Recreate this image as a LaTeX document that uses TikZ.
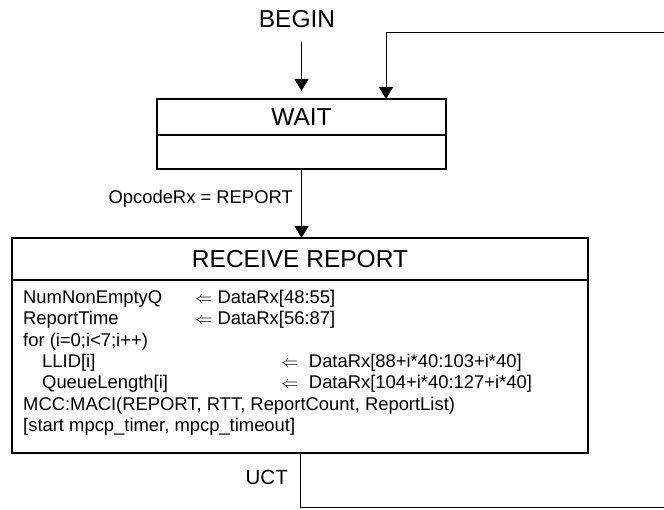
\documentclass[tikz,border=0pt]{standalone}
\usepackage{fontspec}
\setmainfont{Liberation Sans}
\usetikzlibrary{arrows.meta,positioning}

\begin{document}
\begin{tikzpicture}[x=1pt, y=-1pt,
    box/.style={draw, line width=2pt, inner sep=0pt, outer sep=0pt, anchor=north west},
    conn/.style={line width=1pt, -{Triangle[length=12pt, width=14pt]}},
    big/.style={font=\fontsize{24.5}{29}\selectfont},
    body/.style={font=\fontsize{18.4}{22}\selectfont, inner sep=0pt, anchor=base west},
    lbl/.style={font=\fontsize{18.4}{22}\selectfont, inner sep=0pt, anchor=east}]
    \useasboundingbox (0,0) rectangle (664,510);
    % Start label
    \node[big] (begin) at (297,19) {BEGIN};
    % WAIT state
    \node[box, big, minimum width=289pt, minimum height=36pt] (waittop) at (157,99) {WAIT};
    \node[box, minimum width=289pt, minimum height=34pt] (waitbot) at (waittop.south west) {};
    % RECEIVE REPORT state
    \node[box, big, minimum width=576pt, minimum height=42pt] (rxtop) at (12,238) {RECEIVE REPORT};
    \node[box, minimum width=576pt, minimum height=173pt] (rxbot) at (rxtop.south west) {};
    % State actions
    \foreach \i/\x/\txt in {0/23/NumNonEmptyQ, 1/23/ReportTime, 2/23/{for (i=0;i<7;i++)},
        3/42/{LLID[i]}, 4/42/{QueueLength[i]},
        5/23/{MCC:MACI(REPORT, RTT, ReportCount, ReportList)},
        6/23/{[start mpcp\_timer, mpcp\_timeout]}} {
        \node[body] (act\i) at (\x,303.7+21.3*\i) {\txt};
    }
    \node[body] (src0) at (195,303.7) {$\Leftarrow$ DataRx[48:55]};
    \node[body] (src1) at (195,325) {$\Leftarrow$ DataRx[56:87]};
    \node[body] (src3) at (281,367.6) {$\Leftarrow$\hspace{10.5pt}DataRx[88+i*40:103+i*40]};
    \node[body] (src4) at (281,388.9) {$\Leftarrow$\hspace{10.5pt}DataRx[104+i*40:127+i*40]};
    % Transitions
    \draw[conn, shorten <=11pt, shorten >=8pt] (begin.south -| waittop.north) -- (waittop.north);
    \draw[conn] (waitbot.south) -- (waitbot.south |- rxtop.north);
    \node[lbl] (opcode) at (293,199) {OpcodeRx = REPORT};
    \draw[conn] (rxbot.south) -- ++(0,54) -| (680,33) -| ([xshift=229pt]waittop.north west);
    \node[lbl, font=\fontsize{20.5}{24}\selectfont] (uct) at (288,477) {UCT};
\end{tikzpicture}
\end{document}
